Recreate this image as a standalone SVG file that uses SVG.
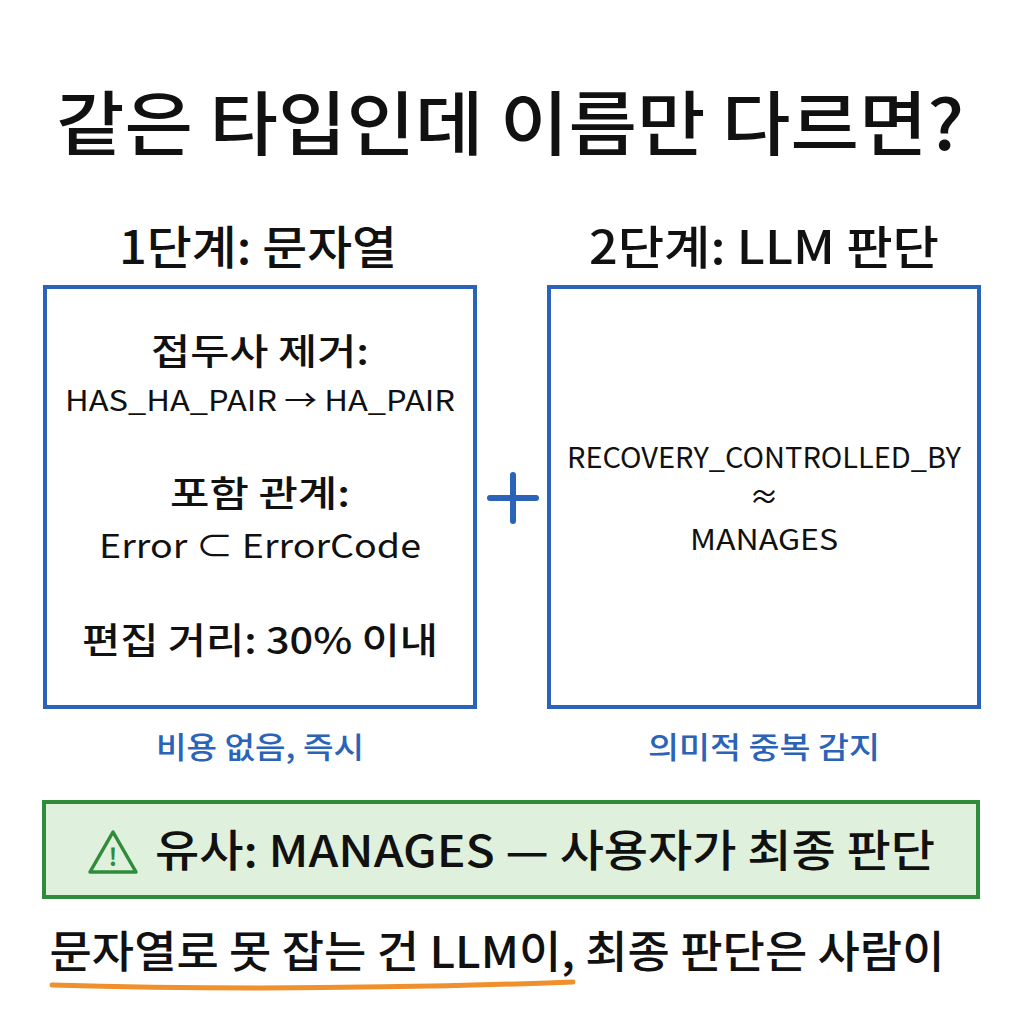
<svg xmlns="http://www.w3.org/2000/svg" width="1024" height="1024" viewBox="0 0 1024 1024">
<style>
text{font-family:"Noto Sans CJK KR","Noto Sans",sans-serif;fill:#111;text-anchor:middle}
.box{fill:#fff;stroke:#2a63b8;stroke-width:4}
.h{font-size:46px;font-weight:500}
.t{font-size:36px;font-weight:500}
.m{font-size:29px}
.blue{fill:#2a63b8;font-size:30px;font-weight:500}
</style>
<rect width="1024" height="1024" fill="#fff"/>
<text x="510" y="150" style="font-size:70px;font-weight:500" textLength="908" lengthAdjust="spacingAndGlyphs">같은 타입인데 이름만 다르면?</text>
<text x="258" y="264" class="h" textLength="278" lengthAdjust="spacingAndGlyphs">1단계: 문자열</text>
<text x="764" y="264" class="h" textLength="350" lengthAdjust="spacingAndGlyphs">2단계: LLM 판단</text>
<g id="stage1">
<rect x="45" y="287" width="430" height="420" class="box"/>
<text x="260" y="365" class="t" textLength="218" lengthAdjust="spacingAndGlyphs">접두사 제거:</text>
<text x="260" y="411" class="m" textLength="390" lengthAdjust="spacingAndGlyphs">HAS_HA_PAIR → HA_PAIR</text>
<text x="260" y="507" class="t" textLength="180" lengthAdjust="spacingAndGlyphs">포함 관계:</text>
<text x="260" y="558" class="m" style="font-size:33px" textLength="322" lengthAdjust="spacingAndGlyphs">Error ⊂ ErrorCode</text>
<text x="260" y="654" class="t" textLength="356" lengthAdjust="spacingAndGlyphs">편집 거리: 30% 이내</text>
</g>
<text x="260" y="758" class="blue" textLength="208" lengthAdjust="spacingAndGlyphs">비용 없음, 즉시</text>
<g id="plus"><path d="M490 498h46M513 475v46" stroke="#2a63b8" stroke-width="6" stroke-linecap="round"/></g>
<g id="stage2">
<rect x="549" y="287" width="430" height="420" class="box"/>
<text x="764" y="468" class="m" textLength="394" lengthAdjust="spacingAndGlyphs">RECOVERY_CONTROLLED_BY</text>
<text x="764" y="508" class="m">≈</text>
<text x="764" y="550" class="m" textLength="148" lengthAdjust="spacingAndGlyphs">MANAGES</text>
</g>
<text x="764" y="758" class="blue" textLength="232" lengthAdjust="spacingAndGlyphs">의미적 중복 감지</text>
<g id="warning">
<rect x="44" y="802" width="934" height="95" fill="#dff0dc" stroke="#2f8c3a" stroke-width="4"/>
<path d="M90 872l23-40 23 40z" fill="none" stroke="#2f8c3a" stroke-width="3.5" stroke-linejoin="round"/>
<text x="113" y="866" style="font-size:24px;font-weight:700;fill:#2f8c3a">!</text>
<text x="545" y="867" style="font-size:44px;font-weight:500" textLength="780" lengthAdjust="spacingAndGlyphs">유사: MANAGES — 사용자가 최종 판단</text>
</g>
<text x="497" y="968" style="font-size:44px;font-weight:500" textLength="895" lengthAdjust="spacingAndGlyphs">문자열로 못 잡는 건 LLM이, 최종 판단은 사람이</text>
<path d="M52 985Q300 992 573 982" fill="none" stroke="#f0902c" stroke-width="5" stroke-linecap="round"/>
</svg>
